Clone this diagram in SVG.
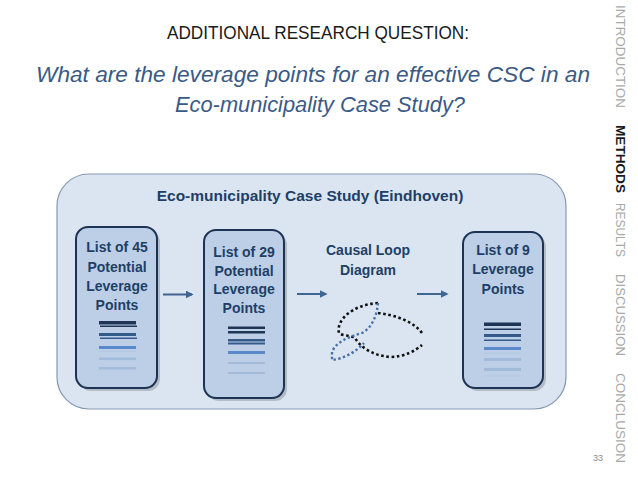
<svg xmlns="http://www.w3.org/2000/svg" width="638" height="479" viewBox="0 0 638 479">
<style>
.hdr{font-family:"Liberation Sans",Arial,sans-serif;font-size:18.5px;fill:#1a1a1a}
.q{font-family:"Liberation Sans",Arial,sans-serif;font-style:italic;font-size:22px;fill:#3a5a85}
.nav{font-family:"Liberation Sans",Arial,sans-serif;font-size:12px;fill:#a8a8a8}
.navb{font-family:"Liberation Sans",Arial,sans-serif;font-size:12px;font-weight:bold;fill:#1a1a1a}
.t{font-family:"Liberation Sans",Arial,sans-serif;font-weight:bold;font-size:14px;fill:#213f66;text-anchor:middle}
.ttl{font-family:"Liberation Sans",Arial,sans-serif;font-weight:bold;font-size:15.5px;fill:#213f66;text-anchor:middle}
.card{fill:#bccfe6;stroke:#1d3355;stroke-width:2}
.shadow{fill:#000;opacity:0.18}
.d{fill:#1f3557}.m{fill:#345a8a}.b{fill:#5a8acb}.l{fill:#a3bbdb}.ll{fill:#b4c9e4}
.arr{stroke:#3f6594;stroke-width:2;fill:none;marker-end:url(#ah)}
</style>
<defs>
<marker id="ah" viewBox="0 0 10 10" refX="8" refY="5" markerWidth="4" markerHeight="4" orient="auto" markerUnits="strokeWidth">
<path d="M0,0 L10,5 L0,10 z" fill="#3f6594"/>
</marker>
</defs>
<rect width="638" height="479" fill="#ffffff"/>
<text class="hdr" x="318" y="39" text-anchor="middle" textLength="302" lengthAdjust="spacingAndGlyphs">ADDITIONAL RESEARCH QUESTION:</text>
<text class="q" x="313" y="82" text-anchor="middle" textLength="554" lengthAdjust="spacingAndGlyphs">What are the leverage points for an effective CSC in an</text>
<text class="q" x="320" y="112" text-anchor="middle" textLength="290" lengthAdjust="spacingAndGlyphs">Eco-municipality Case Study?</text>
<g id="nav">
<text class="nav" transform="translate(616,5) rotate(90)" textLength="103" lengthAdjust="spacingAndGlyphs">INTRODUCTION</text>
<text class="navb" transform="translate(616,125) rotate(90)" textLength="68" lengthAdjust="spacingAndGlyphs">METHODS</text>
<text class="nav" transform="translate(616,203) rotate(90)" textLength="54" lengthAdjust="spacingAndGlyphs">RESULTS</text>
<text class="nav" transform="translate(616,274) rotate(90)" textLength="82" lengthAdjust="spacingAndGlyphs">DISCUSSION</text>
<text class="nav" transform="translate(616,373) rotate(90)" textLength="90" lengthAdjust="spacingAndGlyphs">CONCLUSION</text>
</g>
<text x="598" y="461" font-family="Liberation Sans,Arial,sans-serif" font-size="9" fill="#8a8a8a" text-anchor="middle">33</text>
<g id="case-study">
<rect x="57" y="174" width="509" height="235" rx="32" fill="#dbe5f1" stroke="#8599b2" stroke-width="1.2"/>
<text class="ttl" x="310" y="201">Eco-municipality Case Study (Eindhoven)</text>
</g>
<g id="node-45">
<rect class="shadow" x="79" y="230" width="81" height="161" rx="12"/>
<rect class="card" x="76" y="227" width="81" height="161" rx="12"/>
<text class="t" x="117" y="252">List of 45</text>
<text class="t" x="117" y="272">Potential</text>
<text class="t" x="117" y="291">Leverage</text>
<text class="t" x="117" y="310">Points</text>
<rect class="d" x="99" y="321" width="37" height="3.5"/>
<rect class="d" x="100" y="325.5" width="37" height="1.5"/>
<rect class="m" x="99" y="333" width="37" height="3"/>
<rect class="m" x="100" y="337.5" width="37" height="1.5"/>
<rect class="b" x="99" y="346" width="37" height="3"/>
<rect class="ll" x="99" y="350.5" width="37" height="1.5"/>
<rect class="l" x="99" y="357.5" width="37" height="2.5"/>
<rect class="l" x="99" y="367" width="37" height="2.5"/>
</g>
<g id="node-29">
<rect class="shadow" x="207" y="233" width="80" height="168" rx="12"/>
<rect class="card" x="204" y="230" width="80" height="168" rx="12"/>
<text class="t" x="244" y="257">List of 29</text>
<text class="t" x="244" y="276">Potential</text>
<text class="t" x="244" y="294">Leverage</text>
<text class="t" x="244" y="313">Points</text>
<rect class="d" x="228" y="326.5" width="37" height="2.5"/>
<rect class="d" x="228" y="331" width="37" height="2.5"/>
<rect class="m" x="228" y="339" width="37" height="2.5"/>
<rect class="m" x="228" y="342.5" width="37" height="2"/>
<rect class="b" x="228" y="351" width="37" height="3"/>
<rect class="l" x="228" y="362" width="37" height="2"/>
<rect class="l" x="228" y="372" width="37" height="2"/>
</g>
<g id="node-cld">
<text class="t" x="368" y="255">Causal Loop</text>
<text class="t" x="368" y="275">Diagram</text>
<g fill="none" stroke-linecap="butt">
<path d="M378,303 C352,305 336,320 339,333 C342,336 350,335 355,338 C360,346 370,355 390,357 C405,357 416,350 422,345" stroke="#111" stroke-width="2.6" stroke-dasharray="2.6 2.6"/>
<path d="M378,313 C396,315 414,322 422,333" stroke="#111" stroke-width="2.6" stroke-dasharray="2.6 2.6"/>
<path d="M378,303 C377,315 372,328 362,333 C348,337 336,342 332,352 L332,360 C343,359 356,352 364,343" stroke="#4a72a6" stroke-width="2.4" stroke-dasharray="2.4 2.4"/>
</g>
</g>
<g id="node-9">
<rect class="shadow" x="466" y="235" width="80" height="156" rx="12"/>
<rect class="card" x="463" y="232" width="80" height="156" rx="12"/>
<text class="t" x="503" y="255">List of 9</text>
<text class="t" x="503" y="274">Leverage</text>
<text class="t" x="503" y="294">Points</text>
<rect class="d" x="484" y="322.5" width="37" height="3.5"/>
<rect class="d" x="484" y="328.5" width="37" height="1.5"/>
<rect class="m" x="484" y="334" width="37" height="3"/>
<rect class="m" x="484" y="339.5" width="37" height="1.5"/>
<rect class="b" x="484" y="347" width="37" height="3"/>
<rect class="ll" x="484" y="352.5" width="37" height="1.5"/>
<rect class="l" x="484" y="358" width="37" height="3"/>
<rect class="l" x="484" y="368" width="37" height="3"/>
<rect class="ll" x="484" y="375" width="37" height="1.5"/>
</g>
<g id="connectors">
<line class="arr" x1="163" y1="294.5" x2="192" y2="294.5"/>
<line class="arr" x1="297" y1="294" x2="326" y2="294"/>
<line class="arr" x1="417" y1="294" x2="447" y2="294"/>
</g>
</svg>
